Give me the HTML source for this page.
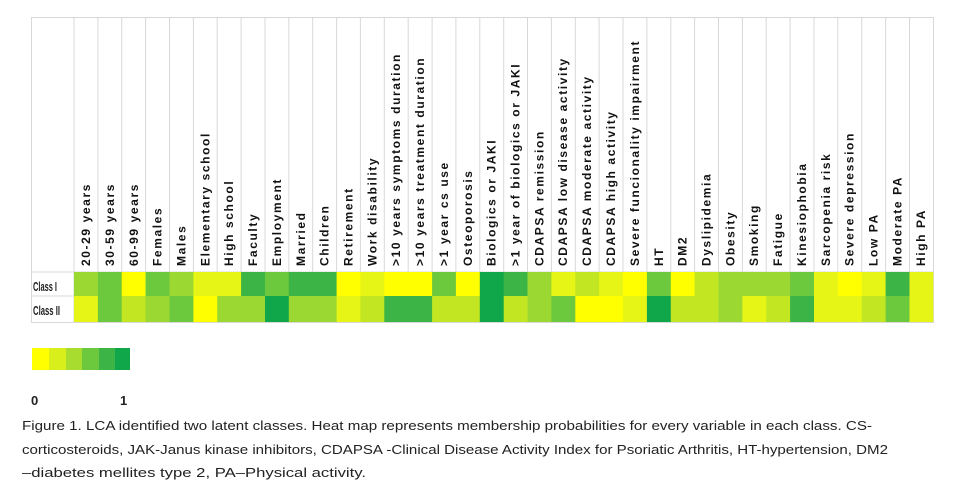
<!DOCTYPE html>
<html><head><meta charset="utf-8"><style>
html,body{margin:0;padding:0;background:#fff;}
svg{display:block;}
.l{font-family:"Liberation Sans",sans-serif;font-weight:bold;font-size:12px;fill:#111;letter-spacing:1.6px;}
.c{font-family:"Liberation Sans",sans-serif;font-size:13px;fill:#222;}
</style></head><body>
<svg width="959" height="495" viewBox="0 0 959 495" xmlns="http://www.w3.org/2000/svg">
<g stroke="#d8d8d8" stroke-width="1" fill="none">
<rect x="31.5" y="17.5" width="902" height="305"/>
<line x1="31" y1="272" x2="933" y2="272"/>
<line x1="31" y1="296" x2="933" y2="296"/>
<line x1="74" y1="17" x2="74" y2="322"/><line x1="97.9" y1="17" x2="97.9" y2="272"/><line x1="121.7" y1="17" x2="121.7" y2="272"/><line x1="145.6" y1="17" x2="145.6" y2="272"/><line x1="169.5" y1="17" x2="169.5" y2="272"/><line x1="193.4" y1="17" x2="193.4" y2="272"/><line x1="217.2" y1="17" x2="217.2" y2="272"/><line x1="241.1" y1="17" x2="241.1" y2="272"/><line x1="265" y1="17" x2="265" y2="272"/><line x1="288.8" y1="17" x2="288.8" y2="272"/><line x1="312.7" y1="17" x2="312.7" y2="272"/><line x1="336.6" y1="17" x2="336.6" y2="272"/><line x1="360.4" y1="17" x2="360.4" y2="272"/><line x1="384.3" y1="17" x2="384.3" y2="272"/><line x1="408.2" y1="17" x2="408.2" y2="272"/><line x1="432.1" y1="17" x2="432.1" y2="272"/><line x1="455.9" y1="17" x2="455.9" y2="272"/><line x1="479.8" y1="17" x2="479.8" y2="272"/><line x1="503.7" y1="17" x2="503.7" y2="272"/><line x1="527.5" y1="17" x2="527.5" y2="272"/><line x1="551.4" y1="17" x2="551.4" y2="272"/><line x1="575.3" y1="17" x2="575.3" y2="272"/><line x1="599.1" y1="17" x2="599.1" y2="272"/><line x1="623" y1="17" x2="623" y2="272"/><line x1="646.9" y1="17" x2="646.9" y2="272"/><line x1="670.8" y1="17" x2="670.8" y2="272"/><line x1="694.6" y1="17" x2="694.6" y2="272"/><line x1="718.5" y1="17" x2="718.5" y2="272"/><line x1="742.4" y1="17" x2="742.4" y2="272"/><line x1="766.2" y1="17" x2="766.2" y2="272"/><line x1="790.1" y1="17" x2="790.1" y2="272"/><line x1="814" y1="17" x2="814" y2="272"/><line x1="837.8" y1="17" x2="837.8" y2="272"/><line x1="861.7" y1="17" x2="861.7" y2="272"/><line x1="885.6" y1="17" x2="885.6" y2="272"/><line x1="909.5" y1="17" x2="909.5" y2="272"/>
</g>
<g>
<rect x="74" y="272" width="24.4" height="24" fill="#9bd932"/>
<rect x="97.9" y="272" width="24.4" height="24" fill="#6cc83c"/>
<rect x="121.7" y="272" width="24.4" height="24" fill="#ffff00"/>
<rect x="145.6" y="272" width="24.4" height="24" fill="#6cc83c"/>
<rect x="169.5" y="272" width="24.4" height="24" fill="#9bd932"/>
<rect x="193.4" y="272" width="24.4" height="24" fill="#e6f516"/>
<rect x="217.2" y="272" width="24.4" height="24" fill="#e6f516"/>
<rect x="241.1" y="272" width="24.4" height="24" fill="#3cb446"/>
<rect x="265" y="272" width="24.4" height="24" fill="#6cc83c"/>
<rect x="288.8" y="272" width="24.4" height="24" fill="#3cb446"/>
<rect x="312.7" y="272" width="24.4" height="24" fill="#3cb446"/>
<rect x="336.6" y="272" width="24.4" height="24" fill="#ffff00"/>
<rect x="360.4" y="272" width="24.4" height="24" fill="#e6f516"/>
<rect x="384.3" y="272" width="24.4" height="24" fill="#ffff00"/>
<rect x="408.2" y="272" width="24.4" height="24" fill="#ffff00"/>
<rect x="432.1" y="272" width="24.4" height="24" fill="#6cc83c"/>
<rect x="455.9" y="272" width="24.4" height="24" fill="#ffff00"/>
<rect x="479.8" y="272" width="24.4" height="24" fill="#10a64a"/>
<rect x="503.7" y="272" width="24.4" height="24" fill="#3cb446"/>
<rect x="527.5" y="272" width="24.4" height="24" fill="#9bd932"/>
<rect x="551.4" y="272" width="24.4" height="24" fill="#e6f516"/>
<rect x="575.3" y="272" width="24.4" height="24" fill="#c3e623"/>
<rect x="599.1" y="272" width="24.4" height="24" fill="#e6f516"/>
<rect x="623" y="272" width="24.4" height="24" fill="#ffff00"/>
<rect x="646.9" y="272" width="24.4" height="24" fill="#6cc83c"/>
<rect x="670.8" y="272" width="24.4" height="24" fill="#ffff00"/>
<rect x="694.6" y="272" width="24.4" height="24" fill="#c3e623"/>
<rect x="718.5" y="272" width="24.4" height="24" fill="#9bd932"/>
<rect x="742.4" y="272" width="24.4" height="24" fill="#9bd932"/>
<rect x="766.2" y="272" width="24.4" height="24" fill="#9bd932"/>
<rect x="790.1" y="272" width="24.4" height="24" fill="#6cc83c"/>
<rect x="814" y="272" width="24.4" height="24" fill="#e6f516"/>
<rect x="837.8" y="272" width="24.4" height="24" fill="#ffff00"/>
<rect x="861.7" y="272" width="24.4" height="24" fill="#e6f516"/>
<rect x="885.6" y="272" width="24.4" height="24" fill="#3cb446"/>
<rect x="909.5" y="272" width="23.8" height="24" fill="#e6f516"/>
</g>
<g>
<rect x="74" y="296" width="24.4" height="26" fill="#e6f516"/>
<rect x="97.9" y="296" width="24.4" height="26" fill="#6cc83c"/>
<rect x="121.7" y="296" width="24.4" height="26" fill="#c3e623"/>
<rect x="145.6" y="296" width="24.4" height="26" fill="#9bd932"/>
<rect x="169.5" y="296" width="24.4" height="26" fill="#6cc83c"/>
<rect x="193.4" y="296" width="24.4" height="26" fill="#ffff00"/>
<rect x="217.2" y="296" width="24.4" height="26" fill="#9bd932"/>
<rect x="241.1" y="296" width="24.4" height="26" fill="#9bd932"/>
<rect x="265" y="296" width="24.4" height="26" fill="#10a64a"/>
<rect x="288.8" y="296" width="24.4" height="26" fill="#9bd932"/>
<rect x="312.7" y="296" width="24.4" height="26" fill="#9bd932"/>
<rect x="336.6" y="296" width="24.4" height="26" fill="#e6f516"/>
<rect x="360.4" y="296" width="24.4" height="26" fill="#c3e623"/>
<rect x="384.3" y="296" width="24.4" height="26" fill="#3cb446"/>
<rect x="408.2" y="296" width="24.4" height="26" fill="#3cb446"/>
<rect x="432.1" y="296" width="24.4" height="26" fill="#c3e623"/>
<rect x="455.9" y="296" width="24.4" height="26" fill="#c3e623"/>
<rect x="479.8" y="296" width="24.4" height="26" fill="#10a64a"/>
<rect x="503.7" y="296" width="24.4" height="26" fill="#c3e623"/>
<rect x="527.5" y="296" width="24.4" height="26" fill="#9bd932"/>
<rect x="551.4" y="296" width="24.4" height="26" fill="#6cc83c"/>
<rect x="575.3" y="296" width="24.4" height="26" fill="#ffff00"/>
<rect x="599.1" y="296" width="24.4" height="26" fill="#ffff00"/>
<rect x="623" y="296" width="24.4" height="26" fill="#e6f516"/>
<rect x="646.9" y="296" width="24.4" height="26" fill="#10a64a"/>
<rect x="670.8" y="296" width="24.4" height="26" fill="#c3e623"/>
<rect x="694.6" y="296" width="24.4" height="26" fill="#c3e623"/>
<rect x="718.5" y="296" width="24.4" height="26" fill="#9bd932"/>
<rect x="742.4" y="296" width="24.4" height="26" fill="#e6f516"/>
<rect x="766.2" y="296" width="24.4" height="26" fill="#c3e623"/>
<rect x="790.1" y="296" width="24.4" height="26" fill="#3cb446"/>
<rect x="814" y="296" width="24.4" height="26" fill="#e6f516"/>
<rect x="837.8" y="296" width="24.4" height="26" fill="#e6f516"/>
<rect x="861.7" y="296" width="24.4" height="26" fill="#c3e623"/>
<rect x="885.6" y="296" width="24.4" height="26" fill="#6cc83c"/>
<rect x="909.5" y="296" width="23.8" height="26" fill="#e6f516"/>
</g>
<g class="l">
<text transform="translate(90,266) rotate(-90)">20-29 years</text>
<text transform="translate(114,266) rotate(-90)">30-59 years</text>
<text transform="translate(138,266) rotate(-90)">60-99 years</text>
<text transform="translate(161.5,266) rotate(-90)">Females</text>
<text transform="translate(185.5,266) rotate(-90)">Males</text>
<text transform="translate(209.5,266) rotate(-90)">Elementary school</text>
<text transform="translate(233,266) rotate(-90)">High school</text>
<text transform="translate(257,266) rotate(-90)">Faculty</text>
<text transform="translate(281,266) rotate(-90)">Employment</text>
<text transform="translate(305,266) rotate(-90)">Married</text>
<text transform="translate(328.5,266) rotate(-90)">Children</text>
<text transform="translate(352.5,266) rotate(-90)">Retirement</text>
<text transform="translate(376.5,266) rotate(-90)">Work disability</text>
<text transform="translate(400,266) rotate(-90)">&gt;10 years symptoms duration</text>
<text transform="translate(424,266) rotate(-90)">&gt;10 years treatment duration</text>
<text transform="translate(448,266) rotate(-90)">&gt;1 year cs use</text>
<text transform="translate(472,266) rotate(-90)">Osteoporosis</text>
<text transform="translate(495.5,266) rotate(-90)">Biologics or JAKI</text>
<text transform="translate(519.5,266) rotate(-90)">&gt;1 year of biologics or JAKI</text>
<text transform="translate(543.5,266) rotate(-90)">CDAPSA remission</text>
<text transform="translate(567,266) rotate(-90)">CDAPSA low disease activity</text>
<text transform="translate(591,266) rotate(-90)">CDAPSA moderate activity</text>
<text transform="translate(615,266) rotate(-90)">CDAPSA high activity</text>
<text transform="translate(639,266) rotate(-90)">Severe funcionality impairment</text>
<text transform="translate(663,266) rotate(-90)">HT</text>
<text transform="translate(686.5,266) rotate(-90)">DM2</text>
<text transform="translate(710.5,266) rotate(-90)">Dyslipidemia</text>
<text transform="translate(734.5,266) rotate(-90)">Obesity</text>
<text transform="translate(758,266) rotate(-90)">Smoking</text>
<text transform="translate(782,266) rotate(-90)">Fatigue</text>
<text transform="translate(806,266) rotate(-90)">Kinesiophobia</text>
<text transform="translate(830,266) rotate(-90)">Sarcopenia risk</text>
<text transform="translate(853.5,266) rotate(-90)">Severe depression</text>
<text transform="translate(877.5,266) rotate(-90)">Low PA</text>
<text transform="translate(901.5,266) rotate(-90)">Moderate PA</text>
<text transform="translate(925,266) rotate(-90)">High PA</text>
</g>
<text class="c" x="33" y="291" font-size="14" font-weight="bold" fill="#111" textLength="24" lengthAdjust="spacingAndGlyphs">Class I</text>
<text class="c" x="33" y="315" font-size="14" font-weight="bold" fill="#111" textLength="27" lengthAdjust="spacingAndGlyphs">Class II</text>
<rect x="32" y="348" width="17" height="22" fill="#ffff00"/>
<rect x="49" y="348" width="17" height="22" fill="#d8ef1c"/>
<rect x="66" y="348" width="16" height="22" fill="#a8dc2e"/>
<rect x="82" y="348" width="17" height="22" fill="#6cc83c"/>
<rect x="99" y="348" width="16" height="22" fill="#3cb446"/>
<rect x="115" y="348" width="15" height="22" fill="#10a64a"/>
<text class="c" x="31" y="405" font-weight="bold" font-size="13">0</text>
<text class="c" x="120" y="405" font-weight="bold" font-size="13">1</text>
<text class="c" x="22" y="430" font-size="14" textLength="850" lengthAdjust="spacingAndGlyphs">Figure 1. LCA identified two latent classes. Heat map represents membership probabilities for every variable in each class. CS-</text>
<text class="c" x="22" y="454" font-size="14" textLength="866" lengthAdjust="spacingAndGlyphs">corticosteroids, JAK-Janus kinase inhibitors, CDAPSA -Clinical Disease Activity Index for Psoriatic Arthritis, HT-hypertension, DM2</text>
<text class="c" x="22" y="477" font-size="14" textLength="344" lengthAdjust="spacingAndGlyphs">–diabetes mellites type 2, PA–Physical activity.</text>
</svg>
</body></html>
